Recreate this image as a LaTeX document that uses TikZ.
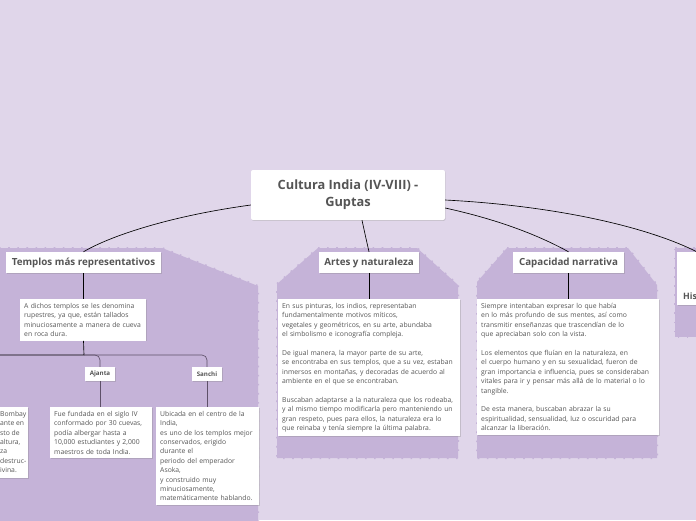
\documentclass[tikz,border=0pt]{standalone}
\usepackage{fontspec}
\setmainfont{Open Sans}
\usetikzlibrary{shadows}
\definecolor{bg}{HTML}{E0D6EA}
\definecolor{reg}{HTML}{C5B3D8}
\definecolor{txt}{HTML}{555555}
\definecolor{branch}{HTML}{5E5068}
\begin{document}
\begin{tikzpicture}[x=1pt,y=-1pt,
  box/.style={fill=white, text=txt, drop shadow={shadow xshift=0.6pt, shadow yshift=-0.8pt, opacity=0.3}},
  head/.style={box, font=\bfseries\fontsize{9.8}{11}\selectfont, inner xsep=4pt, inner ysep=0pt, minimum height=21pt},
  small/.style={box, font=\bfseries\fontsize{6.2}{7}\selectfont, inner sep=0pt, minimum width=30pt, minimum height=14pt},
  body/.style={box, font=\fontsize{6.8}{9.4}\selectfont, align=left, anchor=north west, inner xsep=4pt, inner ysep=4pt},
  region/.style={fill=reg, draw=reg, line width=2pt, dash pattern=on 1.6pt off 7.5pt},
  conn/.style={draw=black, line width=0.65pt},
  sub/.style={draw=branch, line width=0.65pt}
]
\useasboundingbox (0,0) rectangle (696,520);
\clip (0,0) rectangle (696,520);
\fill[bg] (0,0) rectangle (696,520);

% regions
\path[region] (-10,248) -- (162,248) -- (258,286) -- (258,530) -- (-10,530) -- cycle;
\path[region] (318,248) -- (417,248) -- (458,285) -- (458,458) -- (277,458) -- (277,284) -- cycle;
\path[region] (507,248) -- (628,248) -- (657,285) -- (657,458) -- (477,458) -- (477,282) -- cycle;
\path[region] (675,248) -- (710,248) -- (710,337) -- (675,337) -- cycle;

% title
\node[box, rounded corners=2pt, font=\bfseries\fontsize{12.8}{17}\selectfont, align=center, minimum width=194pt, minimum height=50pt] (title) at (348,195) {Cultura India (IV-VIII) -\\Guptas};

% headings
\node[head, minimum width=155pt] (templos) at (83.5,262.5) {Templos más representativos};
\node[head, minimum width=100pt] (artes) at (369,262.5) {Artes y naturaleza};
\node[head, minimum width=111pt] (capac) at (568.5,262.5) {Capacidad narrativa};
\node[box, anchor=north west, minimum width=40pt, minimum height=53pt] (hist) at (677,252) {};
\node[font=\bfseries\fontsize{8.8}{10}\selectfont, text=txt, anchor=base west, inner sep=0pt] (histtxt) at (683,299) {His};

% templos children
\node[body, text width=118pt] (dichos) at (20,299) {A dichos templos se les denomina\\rupestres, ya que, están tallados\\minuciosamente a manera de cueva\\en roca dura.};
\node[small] (ajanta) at (100,374) {Ajanta};
\node[small] (sanchi) at (207,374) {Sanchi};
\node[box, anchor=north west, minimum width=68pt, minimum height=71pt, inner sep=0pt] (ellora) at (-40,407) {};
\node[font=\fontsize{6.8}{9.4}\selectfont, text=txt, align=left, anchor=north west, inner xsep=0pt, inner ysep=4pt] (elltxt) at (0,407) {Bombay\\ante en\\sto de\\altura,\\za\\destruc-\\ivina.};
\node[body, text width=94pt] (ajtxt) at (50,407) {Fue fundada en el siglo IV\\conformado por 30 cuevas,\\podía albergar hasta a\\10,000 estudiantes y 2,000\\maestros de toda India.};
\node[body, text width=95pt] (satxt) at (156,407) {Ubicada en el centro de la\\India,\\es uno de los templos mejor\\conservados, erigido\\durante el\\periodo del emperador\\Asoka,\\y construido muy\\minuciosamente,\\matemáticamente hablando.};

% artes / capacidad texts
\node[body, text width=174pt] (artxt) at (278,299) {En sus pinturas, los indios, representaban\\fundamentalmente motivos míticos,\\vegetales y geométricos, en su arte, abundaba\\el simbolismo e iconografía compleja.\\[9.4pt]De igual manera, la mayor parte de su arte,\\se encontraba en sus templos, que a su vez, estaban\\inmersos en montañas, y decoradas de acuerdo al\\ambiente en el que se encontraban.\\[9.4pt]Buscaban adaptarse a la naturaleza que los rodeaba,\\y al mismo tiempo modificarla pero manteniendo un\\gran respeto, pues para ellos, la naturaleza era lo\\que reinaba y tenía siempre la última palabra.};
\node[body, text width=174pt] (catxt) at (477,299) {Siempre intentaban expresar lo que había\\en lo más profundo de sus mentes, así como\\transmitir enseñanzas que trascendían de lo\\que apreciaban solo con la vista.\\[9.4pt]Los elementos que fluían en la naturaleza, en\\el cuerpo humano y en su sexualidad, fueron de\\gran importancia e influencia, pues se consideraban\\vitales para ir y pensar más allá de lo material o lo\\tangible.\\[9.4pt]De esta manera, buscaban abrazar la su\\espiritualidad, sensualidad, luz o oscuridad para\\alcanzar la liberación.};

% connectors from title
\draw[conn] (title.west |- 0,205) .. controls (170,216) and (110,236) .. (templos.north);
\draw[conn] (title.south -| 362,0) .. controls (365,234) .. (artes.north);
\draw[conn] (title.east |- 0,208) .. controls (500,220) and (540,236) .. (capac.north);
\draw[conn] (title.east |- 0,200) .. controls (560,206) and (650,228) .. (hist.north);

% templos tree
\draw[conn] (templos.south) -- (dichos.north -| templos.south);
\draw[conn] (dichos.south -| templos.south) -- (84,355) -- (ellora.north |- 0,355);
\draw[conn] (ellora.north |- 0,355) -- (ellora.north);
\draw[sub, rounded corners=5pt] (84,355) -- (100,355) -- (ajanta.north);
\draw[sub, rounded corners=5pt] (84,355) -- (207,355) -- (sanchi.north);
\draw[sub] (ajanta.south) -- (ajtxt.north -| ajanta.south);
\draw[sub] (sanchi.south) -- (satxt.north -| sanchi.south);
\draw[conn] (artes.south) -- (artxt.north -| artes.south);
\draw[conn] (capac.south) -- (catxt.north -| capac.south);
\end{tikzpicture}
\end{document}
